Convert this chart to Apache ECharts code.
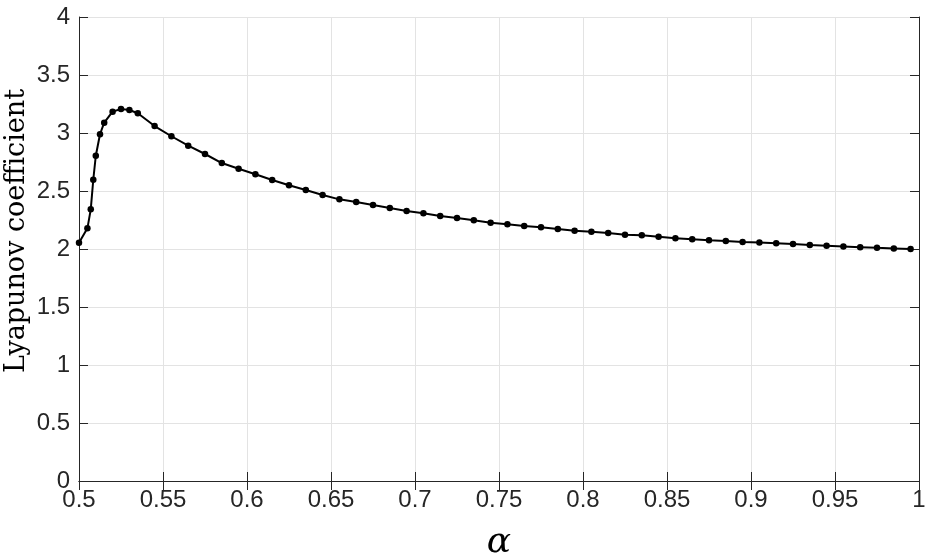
<!DOCTYPE html>
<html>
<head>
<meta charset="utf-8">
<script src="https://cdn.jsdelivr.net/npm/echarts@6/dist/echarts.min.js"></script>
<style>
  html, body { margin: 0; padding: 0; background: #fff; }
  #chart { width: 926px; height: 557px; }
</style>
</head>
<body>
<div id="chart"></div>
<script>
// ---- data ----
const alphaValues = [
  0.5, 0.505, 0.507, 0.5085, 0.51, 0.5125, 0.515, 0.52, 0.525, 0.53, 0.535,
  0.545, 0.555, 0.565, 0.575, 0.585, 0.595, 0.605, 0.615, 0.625, 0.635,
  0.645, 0.655, 0.665, 0.675, 0.685, 0.695, 0.705, 0.715, 0.725, 0.735,
  0.745, 0.755, 0.765, 0.775, 0.785, 0.795, 0.805, 0.815, 0.825, 0.835,
  0.845, 0.855, 0.865, 0.875, 0.885, 0.895, 0.905, 0.915, 0.925, 0.935,
  0.945, 0.955, 0.965, 0.975, 0.985, 0.995
];
const lyapunovValues = [
  2.054, 2.178, 2.342, 2.597, 2.804, 2.989, 3.089, 3.184, 3.207, 3.198, 3.170,
  3.060, 2.972, 2.891, 2.819, 2.741, 2.692, 2.644, 2.595, 2.549, 2.509,
  2.466, 2.428, 2.405, 2.379, 2.353, 2.328, 2.308, 2.284, 2.267, 2.247,
  2.227, 2.213, 2.198, 2.187, 2.172, 2.158, 2.149, 2.138, 2.123, 2.118,
  2.106, 2.092, 2.084, 2.075, 2.069, 2.061, 2.055, 2.049, 2.043, 2.034,
  2.028, 2.022, 2.016, 2.010, 2.005, 2.000
];
const xTicks = [0.5, 0.55, 0.6, 0.65, 0.7, 0.75, 0.8, 0.85, 0.9, 0.95, 1];
const yTicks = [0, 0.5, 1, 1.5, 2, 2.5, 3, 3.5, 4];
const xTitle = 'α';
const yTitle = 'Lyapunov coefficient';

const seriesData = alphaValues.map((a, i) => [a, lyapunovValues[i]]);

const axisColor = '#262626';
const gridColor = '#e3e3e3';
const tickFont = { fontFamily: '"Liberation Sans", Arial, Helvetica, sans-serif', fontSize: 24, color: '#262626' };

const xMin = xTicks[0], xMax = xTicks[xTicks.length - 1], xStep = 0.05;
const yMin = yTicks[0], yMax = yTicks[yTicks.length - 1], yStep = 0.5;

const chart = echarts.init(document.getElementById('chart'), null, { renderer: 'canvas' });
chart.setOption({
  animation: false,
  backgroundColor: '#ffffff',
  grid: { left: 79, right: 7, top: 17, bottom: 76, containLabel: false, outerBoundsMode: 'none' },
  xAxis: [
    {
      type: 'value', min: xMin, max: xMax, interval: xStep, position: 'bottom',
      name: xTitle, nameLocation: 'middle', nameGap: 44, nameMoveOverlap: false,
      nameTextStyle: { fontFamily: '"DejaVu Serif", serif', fontStyle: 'italic', fontSize: 36, color: '#000' },
      axisLine: { show: true, lineStyle: { color: axisColor, width: 1 } },
      axisTick: { show: true, inside: true, length: 9, lineStyle: { color: axisColor } },
      axisLabel: Object.assign({ margin: 7 }, tickFont),
      splitLine: { show: true, lineStyle: { color: gridColor, width: 1 } }
    },
    {
      type: 'value', min: xMin, max: xMax, interval: xStep, position: 'top',
      axisLine: { show: true, lineStyle: { color: axisColor, width: 1 } },
      axisTick: { show: true, inside: true, length: 9, lineStyle: { color: axisColor } },
      axisLabel: { show: false },
      splitLine: { show: false }
    }
  ],
  yAxis: [
    {
      type: 'value', min: yMin, max: yMax, interval: yStep, position: 'left',
      name: yTitle, nameLocation: 'middle', nameGap: 49, nameRotate: 90, nameMoveOverlap: false,
      nameTextStyle: { fontFamily: '"DejaVu Serif", serif', fontSize: 27, color: '#000', padding: [0, 0, 0, 36] },
      axisLine: { show: true, lineStyle: { color: axisColor, width: 1 } },
      axisTick: { show: true, inside: true, length: 9, lineStyle: { color: axisColor } },
      axisLabel: Object.assign({ margin: 9 }, tickFont),
      splitLine: { show: true, lineStyle: { color: gridColor, width: 1 } }
    },
    {
      type: 'value', min: yMin, max: yMax, interval: yStep, position: 'right',
      axisLine: { show: true, lineStyle: { color: axisColor, width: 1 } },
      axisTick: { show: true, inside: true, length: 9, lineStyle: { color: axisColor } },
      axisLabel: { show: false },
      splitLine: { show: false }
    }
  ],
  series: [{
    type: 'line',
    xAxisIndex: 0, yAxisIndex: 0,
    data: seriesData,
    symbol: 'circle',
    symbolSize: 6.5,
    showAllSymbol: true,
    lineStyle: { color: '#000', width: 2 },
    itemStyle: { color: '#000' },
    z: 5
  }]
});
</script>
</body>
</html>
